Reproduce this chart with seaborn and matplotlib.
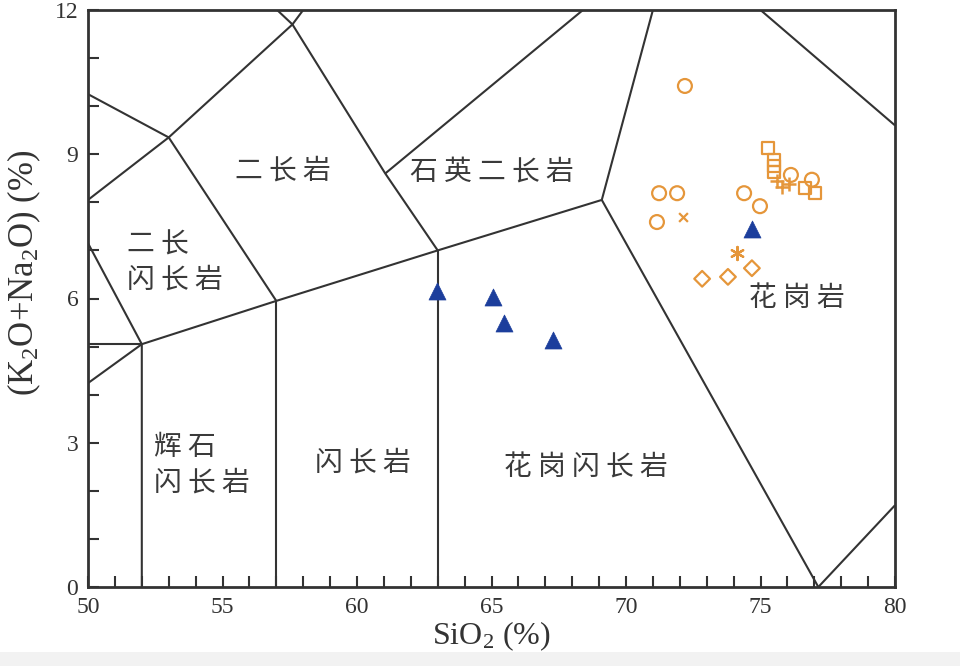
import matplotlib
matplotlib.use('Agg')
import matplotlib.pyplot as plt
from matplotlib.patches import Rectangle
import pandas as pd
import seaborn as sns

# ===== DATA =====
# field boundaries (SiO2, K2O+Na2O), one polyline per entry
boundary_lines = [
    [(50, 10.25), (53, 9.35), (57, 5.95)],
    [(50, 8.05), (53, 9.35), (57.6, 11.7), (58.0, 12)],
    [(57.03, 12), (57.6, 11.7), (61.05, 8.6), (63, 7.0)],
    [(50, 7.15), (52, 5.05)],
    [(50, 5.05), (52, 5.05)],
    [(50, 4.24), (52, 5.05)],
    [(52, 0), (52, 5.05), (57, 5.95), (63, 7.0), (69.1, 8.05)],
    [(57, 0), (57, 5.95)],
    [(63, 0), (63, 7.0)],
    [(61.05, 8.6), (68.4, 12)],
    [(69.1, 8.05), (71.0, 12)],
    [(69.1, 8.05), (77.15, 0)],
    [(75, 12), (80, 9.6)],
    [(77.15, 0), (80, 1.7)],
]

field_names = ['二长岩', '石英二长岩', '二长\n闪长岩', '辉石\n闪长岩', '闪长岩', '花岗闪长岩', '花岗岩']
field_x = [57.25, 65.0, 51.45, 52.45, 60.2, 68.5, 76.35]
field_y = [8.67, 8.63, 6.76, 2.54, 2.58, 2.48, 6.01]
field_ha = ['center', 'center', 'left', 'left', 'center', 'center', 'center']

# blue triangles
tri_sio2 = [62.97, 65.06, 65.46, 67.29, 74.68]
tri_alk = [6.16, 6.03, 5.49, 5.14, 7.45]

# orange open symbols
circ_sio2 = [72.19, 71.23, 71.90, 71.15, 74.39, 74.98, 76.13, 76.91]
circ_alk = [10.42, 8.19, 8.19, 7.59, 8.19, 7.92, 8.57, 8.47]
sq_sio2 = [75.28, 75.50, 75.50, 75.50, 76.65, 77.03]
sq_alk = [9.13, 8.88, 8.76, 8.63, 8.30, 8.19]
plus_sio2 = [75.61, 75.80, 76.06]
plus_alk = [8.44, 8.32, 8.38]
cross_sio2 = [72.12]
cross_alk = [7.70]
star_sio2 = [74.13]
star_alk = [6.95]
dia_sio2 = [72.83, 73.79, 74.68]
dia_alk = [6.41, 6.45, 6.63]

ORANGE = '#E5963A'
BLUE = '#1C3E9C'
LINE = '#333333'

# ===== STYLE =====
sns.set_style('ticks')
plt.rcParams['font.family'] = ['Liberation Serif', 'DejaVu Serif']
plt.rcParams['mathtext.fontset'] = 'custom'
plt.rcParams['mathtext.rm'] = 'Liberation Serif'
plt.rcParams['mathtext.it'] = 'Liberation Serif:italic'

fig = plt.figure(figsize=(9.6, 6.66), dpi=100)
fig.patch.set_facecolor('white')
ax = fig.add_axes([88 / 960, 79 / 666, 807 / 960, 577 / 666])

# grey strip at the bottom of the image
fig.patches.append(Rectangle((0, 0), 1, 14 / 666, transform=fig.transFigure,
                             facecolor='#f2f2f2', edgecolor='none', zorder=-1))

# field boundaries
for seg in boundary_lines:
    seg_df = pd.DataFrame(seg, columns=['x', 'y'])
    ax.plot(seg_df['x'], seg_df['y'], color=LINE, lw=1.5, solid_capstyle='butt', zorder=2)

# field names (spaced out like the original)
for name, fx, fy, ha in zip(field_names, field_x, field_y, field_ha):
    spaced = '\n'.join(' '.join(line) for line in name.split('\n'))
    ax.text(fx, fy, spaced, ha=ha, va='center', fontsize=20, color='#3a3a3a',
            family=['Noto Sans CJK SC', 'DejaVu Sans'], fontweight='light',
            linespacing=1.25, zorder=3)

# sample points
pts = [
    (circ_sio2, circ_alk, 'o', 10),
    (sq_sio2, sq_alk, 's', 9),
    (dia_sio2, dia_alk, 'D', 8),
]
for xs, ys, mk, ms in pts:
    sns.scatterplot(x=xs, y=ys, marker=mk, s=ms ** 2, facecolors='none',
                    edgecolor=ORANGE, linewidth=1.6, ax=ax, zorder=4)
sns.scatterplot(x=plus_sio2, y=plus_alk, marker='+', s=110, color=ORANGE,
                linewidth=1.8, ax=ax, zorder=4)
sns.scatterplot(x=cross_sio2, y=cross_alk, marker='x', s=40, color=ORANGE,
                linewidth=1.6, ax=ax, zorder=4)
sns.scatterplot(x=star_sio2, y=star_alk, marker=(6, 2, 0), s=90, color=ORANGE,
                linewidth=1.6, ax=ax, zorder=4)
sns.scatterplot(x=tri_sio2, y=tri_alk, marker='^', s=150, color=BLUE,
                edgecolor=BLUE, linewidth=0.5, ax=ax, zorder=5)

# axes
ax.set_xlim(50, 80)
ax.set_ylim(0, 12)
ax.set_xticks(range(50, 81, 5))
ax.set_xticks(range(50, 81, 1), minor=True)
ax.set_yticks(range(0, 13, 3))
ax.set_yticks(range(0, 13, 1), minor=True)
ax.tick_params(which='both', direction='in', length=8, width=1.5, color=LINE,
               labelsize=17, labelcolor='#333333')
ax.tick_params(axis='x', pad=7)
ax.tick_params(axis='y', pad=7)
for sp in ax.spines.values():
    sp.set_linewidth(2)
    sp.set_color(LINE)
ax.spines['top'].set_visible(True)
ax.spines['right'].set_visible(True)

ax.set_xlabel(r'SiO$_2$ (%)', fontsize=23, color='#333333', labelpad=1)
ax.set_ylabel(r'(K$_2$O+Na$_2$O) (%)', fontsize=25, color='#333333')
ax.yaxis.set_label_coords(-0.056, 0.545)

plt.savefig('out.png', dpi=100)
